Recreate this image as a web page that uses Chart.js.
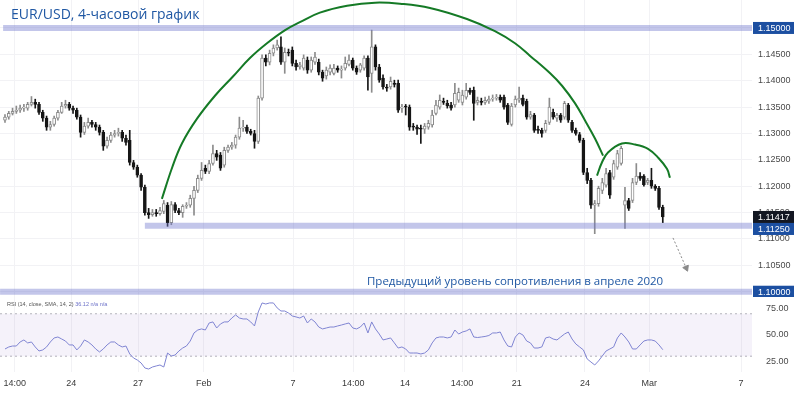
<!DOCTYPE html>
<html><head><meta charset="utf-8">
<script src="https://cdn.jsdelivr.net/npm/chart.js@4/dist/chart.umd.min.js"></script>
<style>
html,body{margin:0;padding:0;background:#fff;}
#wrap{position:relative;width:794px;height:394px;overflow:hidden;}
#c1{position:absolute;left:0;top:0;}
#c2{position:absolute;left:0;top:297px;}
.t{position:absolute;white-space:nowrap;font-family:"Open Sans",sans-serif;}
</style></head><body>
<div id="wrap">
<canvas id="c1" width="794" height="297"></canvas>
<canvas id="c2" width="794" height="97"></canvas>
<div class="t" style="left:11px;top:4px;font-size:14px;color:#1f57a3;">EUR/USD, 4-часовой график</div>
<div class="t" style="left:367px;top:273px;font-size:11.5px;color:#1f57a3;">Предыдущий уровень сопротивления в апреле 2020</div>
<div class="t" style="left:7px;top:301px;font-size:5.5px;color:#555;font-family:'Liberation Sans',sans-serif;">RSI (14, close, SMA, 14, 2) <span style="color:#6b70c8">36.12 n/a n/a</span></div>
</div>
<script>
// ---- data (4h candles, bar index 0..174) ----
const open = [1.1325,1.1331,1.1338,1.1342,1.1344,1.1348,1.1348,1.1355,1.1359,1.1355,
1.1340,1.1329,1.1312,1.1317,1.1329,1.1340,1.1352,1.1355,1.1348,1.1344,
1.1331,1.1302,1.1314,1.1321,1.1317,1.1312,1.1302,1.1276,1.1287,1.1297,
1.1300,1.1302,1.1291,1.1287,1.1245,1.1236,1.1221,1.1198,1.1150,1.1146,
1.1150,1.1148,1.1152,1.1164,1.1131,1.1165,1.1154,1.1150,1.1162,1.1164,
1.1177,1.1192,1.1215,1.1234,1.1228,1.1243,1.1262,1.1259,1.1240,1.1268,
1.1274,1.1278,1.1293,1.1310,1.1312,1.1304,1.1300,1.1285,1.1367,1.1443,
1.1435,1.1452,1.1462,1.1464,1.1435,1.1454,1.1458,1.1433,1.1426,1.1424,
1.1439,1.1420,1.1435,1.1435,1.1416,1.1409,1.1416,1.1414,1.1424,1.1420,
1.1424,1.1431,1.1439,1.1424,1.1420,1.1424,1.1443,1.1414,1.1464,1.1426,
1.1405,1.1388,1.1388,1.1395,1.1395,1.1348,1.1352,1.1350,1.1314,1.1312,
1.1310,1.1308,1.1312,1.1316,1.1338,1.1350,1.1361,1.1357,1.1354,1.1354,
1.1363,1.1359,1.1369,1.1382,1.1382,1.1359,1.1361,1.1359,1.1361,1.1365,
1.1367,1.1369,1.1369,1.1354,1.1317,1.1354,1.1363,1.1367,1.1361,1.1331,
1.1335,1.1308,1.1306,1.1306,1.1321,1.1340,1.1329,1.1335,1.1331,1.1354,
1.1321,1.1306,1.1298,1.1287,1.1226,1.1211,1.1164,1.1167,1.1192,1.1202,
1.1226,1.1217,1.1236,1.1243,1.1164,1.1173,1.1173,1.1207,1.1219,1.1219,
1.1207,1.1211,1.1200,1.1196,1.1160];
const high = [1.1336,1.1342,1.1348,1.1352,1.1354,1.1355,1.1359,1.1370,1.1365,1.1359,
1.1344,1.1333,1.1323,1.1333,1.1344,1.1359,1.1363,1.1359,1.1352,1.1348,
1.1335,1.1321,1.1329,1.1325,1.1321,1.1316,1.1306,1.1293,1.1302,1.1306,
1.1310,1.1306,1.1297,1.1306,1.1249,1.1240,1.1224,1.1202,1.1158,1.1156,
1.1156,1.1160,1.1173,1.1169,1.1171,1.1169,1.1158,1.1165,1.1169,1.1183,
1.1200,1.1221,1.1245,1.1240,1.1249,1.1278,1.1268,1.1264,1.1274,1.1278,
1.1283,1.1297,1.1331,1.1325,1.1316,1.1308,1.1306,1.1371,1.1449,1.1449,
1.1458,1.1468,1.1477,1.1483,1.1462,1.1460,1.1464,1.1439,1.1435,1.1449,
1.1445,1.1445,1.1454,1.1441,1.1420,1.1426,1.1430,1.1431,1.1428,1.1428,
1.1445,1.1449,1.1443,1.1428,1.1433,1.1447,1.1447,1.1496,1.1468,1.1431,
1.1411,1.1393,1.1407,1.1401,1.1401,1.1355,1.1355,1.1354,1.1319,1.1316,
1.1316,1.1319,1.1325,1.1344,1.1363,1.1373,1.1367,1.1363,1.1359,1.1395,
1.1386,1.1382,1.1395,1.1386,1.1388,1.1369,1.1367,1.1369,1.1371,1.1373,
1.1374,1.1373,1.1373,1.1357,1.1357,1.1371,1.1388,1.1373,1.1365,1.1342,
1.1338,1.1314,1.1310,1.1325,1.1367,1.1346,1.1338,1.1338,1.1361,1.1357,
1.1325,1.1310,1.1302,1.1291,1.1234,1.1215,1.1173,1.1200,1.1215,1.1234,
1.1230,1.1249,1.1268,1.1276,1.1198,1.1177,1.1215,1.1243,1.1226,1.1222,
1.1215,1.1234,1.1203,1.1200,1.1164];
const low = [1.1321,1.1327,1.1335,1.1338,1.1340,1.1342,1.1344,1.1352,1.1348,1.1336,
1.1323,1.1306,1.1306,1.1314,1.1325,1.1338,1.1348,1.1344,1.1338,1.1327,
1.1293,1.1298,1.1310,1.1312,1.1306,1.1297,1.1268,1.1272,1.1283,1.1293,
1.1295,1.1285,1.1278,1.1240,1.1232,1.1217,1.1192,1.1145,1.1139,1.1143,
1.1143,1.1145,1.1148,1.1124,1.1127,1.1150,1.1146,1.1141,1.1158,1.1160,
1.1145,1.1188,1.1211,1.1224,1.1224,1.1240,1.1249,1.1230,1.1236,1.1264,
1.1270,1.1272,1.1289,1.1304,1.1300,1.1297,1.1272,1.1281,1.1363,1.1428,
1.1430,1.1447,1.1458,1.1431,1.1414,1.1447,1.1428,1.1420,1.1422,1.1420,
1.1414,1.1416,1.1431,1.1411,1.1399,1.1403,1.1411,1.1411,1.1416,1.1405,
1.1420,1.1428,1.1420,1.1412,1.1416,1.1420,1.1382,1.1378,1.1420,1.1397,
1.1384,1.1380,1.1384,1.1388,1.1340,1.1340,1.1335,1.1306,1.1306,1.1298,
1.1281,1.1300,1.1308,1.1312,1.1335,1.1346,1.1355,1.1348,1.1344,1.1350,
1.1359,1.1354,1.1365,1.1374,1.1325,1.1354,1.1354,1.1355,1.1357,1.1361,
1.1363,1.1359,1.1346,1.1317,1.1314,1.1350,1.1359,1.1352,1.1327,1.1327,
1.1302,1.1300,1.1293,1.1302,1.1317,1.1327,1.1323,1.1321,1.1327,1.1321,
1.1302,1.1297,1.1283,1.1222,1.1205,1.1158,1.1110,1.1162,1.1186,1.1198,
1.1177,1.1213,1.1232,1.1240,1.1120,1.1154,1.1169,1.1203,1.1211,1.1200,
1.1203,1.1196,1.1192,1.1156,1.1131];
const close = [1.1331,1.1338,1.1342,1.1344,1.1348,1.1348,1.1355,1.1359,1.1355,1.1340,
1.1329,1.1312,1.1317,1.1329,1.1340,1.1352,1.1355,1.1348,1.1344,1.1331,
1.1302,1.1314,1.1321,1.1317,1.1312,1.1302,1.1276,1.1287,1.1297,1.1300,
1.1302,1.1291,1.1283,1.1245,1.1236,1.1221,1.1198,1.1150,1.1146,1.1150,
1.1148,1.1154,1.1167,1.1131,1.1165,1.1154,1.1150,1.1162,1.1164,1.1177,
1.1192,1.1215,1.1230,1.1228,1.1243,1.1262,1.1255,1.1234,1.1268,1.1274,
1.1278,1.1293,1.1310,1.1312,1.1304,1.1300,1.1285,1.1367,1.1443,1.1435,
1.1452,1.1462,1.1468,1.1435,1.1454,1.1452,1.1433,1.1426,1.1430,1.1443,
1.1420,1.1439,1.1445,1.1416,1.1405,1.1420,1.1424,1.1424,1.1420,1.1422,
1.1433,1.1439,1.1424,1.1416,1.1430,1.1443,1.1407,1.1464,1.1426,1.1401,
1.1388,1.1386,1.1399,1.1393,1.1344,1.1350,1.1350,1.1312,1.1312,1.1308,
1.1308,1.1314,1.1319,1.1335,1.1354,1.1363,1.1359,1.1352,1.1348,1.1376,
1.1378,1.1373,1.1382,1.1378,1.1357,1.1363,1.1359,1.1363,1.1365,1.1367,
1.1369,1.1363,1.1350,1.1321,1.1352,1.1365,1.1367,1.1355,1.1331,1.1336,
1.1306,1.1306,1.1300,1.1319,1.1350,1.1331,1.1335,1.1325,1.1357,1.1325,
1.1306,1.1300,1.1287,1.1226,1.1211,1.1164,1.1167,1.1196,1.1207,1.1224,
1.1183,1.1243,1.1262,1.1272,1.1173,1.1158,1.1207,1.1219,1.1215,1.1203,
1.1211,1.1200,1.1196,1.1160,1.11417];
const rsi = [36.8,38.7,39.6,39.6,43.4,45.3,42.5,43.4,38.7,34.9,
35.9,38.7,43.4,47.2,48.1,46.2,44.3,40.6,40.6,35.9,
39.6,45.3,43.4,40.6,36.8,34.0,36.8,40.6,43.4,43.4,
40.6,38.7,39.6,32.1,28.3,26.4,23.6,18.9,17.9,19.8,
20.8,21.7,19.8,33.0,30.2,31.1,34.9,37.7,39.6,44.3,
51.9,54.7,55.7,54.7,61.3,62.3,56.6,60.4,62.3,62.3,
66.0,68.9,66.0,65.1,65.1,62.3,58.5,71.7,80.2,79.2,
80.2,80.2,75.5,72.6,72.6,70.7,67.9,67.0,66.0,67.9,
61.3,65.1,62.3,57.5,55.7,56.6,57.5,57.5,58.5,59.4,
60.4,61.3,56.6,55.7,57.5,61.3,51.9,62.3,55.7,50.9,
45.3,46.2,47.2,42.5,37.7,38.7,36.8,33.0,33.0,33.0,
32.1,33.0,35.9,42.5,47.2,48.1,48.1,47.2,48.1,54.7,
50.9,52.8,53.8,55.7,48.1,47.6,48.1,48.6,49.5,51.9,
51.9,52.8,45.3,39.6,38.7,48.1,51.9,50.0,44.3,42.5,
37.7,37.7,38.7,47.2,48.1,46.2,45.3,48.1,50.9,52.8,
46.2,41.5,38.7,35.9,27.4,24.5,21.7,25.5,30.2,34.9,
36.8,38.7,47.2,51.9,48.1,43.4,36.8,36.8,40.6,44.3,
45.3,45.3,44.3,40.6,36.12];

// x-axis tick labels (positions in bar-index units)
const xTickPos = [2.6,17.5,35.2,52.6,76.2,92.1,105.8,120.9,135.4,153.4,170.4,194.7];
const xTickLabels = ['14:00','24','27','Feb','7','14:00','14','14:00','21','24','Mar','7'];
const priceTicks = [1.100,1.105,1.110,1.115,1.120,1.125,1.130,1.135,1.140,1.145,1.150];
const rsiTicks = [25,50,75];

// drawn levels and annotations
const bandLevels = [1.15, 1.1125, 1.10];
const bandStart = [-0.5, 37.0, -1.3];
const markValues = [1.15, 1.11417, 1.1125, 1.10];
const bigArcX = [41.5,44.2,46.8,50.8,55.6,60.3,64.8,69.3,74.1,78.0,83.3,90.5,97.9,104.5,112.4,122.2,129.6,134.9,138.9,144.2,147.4,150.8,153.4,156.1,158.2];
const bigArcY = [1.1176,1.1235,1.1281,1.1328,1.1372,1.1408,1.1443,1.1471,1.1496,1.1511,1.1529,1.1542,1.1548,1.1546,1.1538,1.1517,1.1494,1.1471,1.1447,1.1414,1.1390,1.1357,1.1325,1.1290,1.1258];
const smallArcX = [156.6,157.9,159.5,163.2,166.7,170.1,172.8,175.1,175.9];
const smallArcY = [1.1220,1.1245,1.1264,1.1281,1.1279,1.1271,1.1254,1.1233,1.1216];
const arrowX = [176.7,180.2];
const arrowY = [1.1102,1.1045];
const rsiUpper = 70, rsiLower = 30;

// ---- styling / layout ----
const xMin = -1.32, xMax = 197.6;
const FONT = "'Liberation Sans', sans-serif";
const markColors = ['#1c4fa1','#131722','#1c4fa1','#1c4fa1'];
const gridColor = '#f2f2f5';

const idx = close.map((_, i) => i);
const up = close.map((c, i) => c >= open[i]);
const pts = (xs, ys) => xs.map((x, k) => ({x, y: ys[k]}));

const zeroPad = s => { s.paddingTop = 0; s.paddingBottom = 0; s.paddingLeft = 0; s.paddingRight = 0; };

const priceMarksPlugin = {
  id: 'priceMarks',
  afterDraw(chart) {
    const ys = chart.scales.y, ctx = chart.ctx;
    ctx.save();
    ctx.font = '9px ' + FONT;
    ctx.textBaseline = 'middle';
    let prevBottom = -100;
    markValues.map((v, k) => ({v, k, py: ys.getPixelForValue(v)}))
      .sort((a, b) => a.py - b.py)
      .forEach(m => {
        let cy = m.py;
        if (cy - 6 < prevBottom) cy = prevBottom + 6;
        prevBottom = cy + 6;
        ctx.fillStyle = markColors[m.k];
        ctx.fillRect(753, cy - 6, 41, 12);
        ctx.fillStyle = '#ffffff';
        ctx.fillText(m.v.toFixed(5), 758, cy + 0.5);
      });
    ctx.restore();
  }
};

const bandDatasets = bandLevels.map((lvl, k) => ({
  type: 'line',
  data: [{x: bandStart[k], y: lvl}, {x: xMax, y: lvl}],
  borderColor: 'rgba(112,118,206,0.42)',
  borderWidth: 6,
  pointRadius: 0,
  order: 3
}));

new Chart(document.getElementById('c1'), {
  type: 'bar',
  data: {
    datasets: [
      {type: 'line', data: pts(arrowX, arrowY), borderColor: '#8a8a8a', borderWidth: 1, borderDash: [2, 2],
       pointRadius: [0, 3.5], pointStyle: 'triangle', pointRotation: [0, 157],
       pointBackgroundColor: '#8a8a8a', pointBorderColor: '#8a8a8a', order: 1},
      {type: 'line', data: pts(bigArcX, bigArcY), borderColor: '#157a26', borderWidth: 2,
       pointRadius: 0, tension: 0.4, order: 2},
      {type: 'line', data: pts(smallArcX, smallArcY), borderColor: '#157a26', borderWidth: 2,
       pointRadius: 0, tension: 0.4, order: 2},
      ...bandDatasets,
      {data: idx.map(i => ({x: i, y: [open[i], close[i]]})), barThickness: 3, grouped: false,
       backgroundColor: up.map(u => u ? '#ffffff' : '#161616'),
       borderColor: up.map(u => u ? '#8c8c8c' : '#161616'),
       borderWidth: 1, borderSkipped: false, minBarLength: 1, order: 4},
      {data: idx.map(i => ({x: i, y: [low[i], high[i]]})), barThickness: 1, grouped: false,
       backgroundColor: up.map(u => u ? '#8c8c8c' : '#161616'), order: 5}
    ]
  },
  options: {
    responsive: false, animation: false, devicePixelRatio: 1, events: [],
    layout: {padding: 0, autoPadding: false},
    plugins: {legend: {display: false}, tooltip: {enabled: false}, title: {display: false}},
    scales: {
      x: {type: 'linear', min: xMin, max: xMax, offset: false,
          afterBuildTicks: s => { s.ticks = xTickPos.map(v => ({value: v})); },
          ticks: {display: false}, grid: {color: gridColor, drawTicks: false, offset: false},
          border: {display: false},
          afterFit: s => { s.height = 0; zeroPad(s); }},
      y: {position: 'right', min: 1.0990, max: 1.1553,
          afterBuildTicks: s => { s.ticks = priceTicks.map(v => ({value: v})); },
          ticks: {callback: v => Number(v).toFixed(5), color: '#4a4a4a', font: {size: 9, family: FONT}, padding: 6},
          grid: {color: gridColor, drawTicks: false}, border: {display: false},
          afterFit: s => { s.width = 42; zeroPad(s); }}
    }
  },
  plugins: [priceMarksPlugin]
});

new Chart(document.getElementById('c2'), {
  type: 'line',
  data: {
    datasets: [
      {data: idx.map(i => ({x: i, y: rsi[i]})), borderColor: '#7f84d2', borderWidth: 1, pointRadius: 0, tension: 0, order: 1},
      {data: [{x: xMin, y: rsiUpper}, {x: xMax, y: rsiUpper}], borderColor: '#b4b4bc', borderWidth: 1, borderDash: [2, 3],
       pointRadius: 0, fill: '+1', backgroundColor: 'rgba(126,87,194,0.08)', order: 2},
      {data: [{x: xMin, y: rsiLower}, {x: xMax, y: rsiLower}], borderColor: '#b4b4bc', borderWidth: 1, borderDash: [2, 3],
       pointRadius: 0, order: 3}
    ]
  },
  options: {
    responsive: false, animation: false, devicePixelRatio: 1, events: [],
    layout: {padding: 0, autoPadding: false},
    plugins: {legend: {display: false}, tooltip: {enabled: false}, filler: {propagate: false}},
    scales: {
      x: {type: 'linear', min: xMin, max: xMax, offset: false,
          afterBuildTicks: s => { s.ticks = xTickPos.map(v => ({value: v})); },
          ticks: {autoSkip: false, maxRotation: 0, color: '#3a3a3a', font: {size: 9, family: FONT}, padding: 6,
                  callback: (v, i) => xTickLabels[i]},
          grid: {color: gridColor, drawTicks: false}, border: {display: false},
          afterFit: s => { s.height = 22; zeroPad(s); }},
      y: {position: 'right', min: 15.1, max: 85.8,
          afterBuildTicks: s => { s.ticks = rsiTicks.map(v => ({value: v})); },
          ticks: {callback: v => Number(v).toFixed(2), color: '#4a4a4a', font: {size: 9, family: FONT}, padding: 6},
          grid: {display: false}, border: {display: false},
          afterFit: s => { s.width = 42; zeroPad(s); }}
    }
  }
});
</script>
</body></html>
